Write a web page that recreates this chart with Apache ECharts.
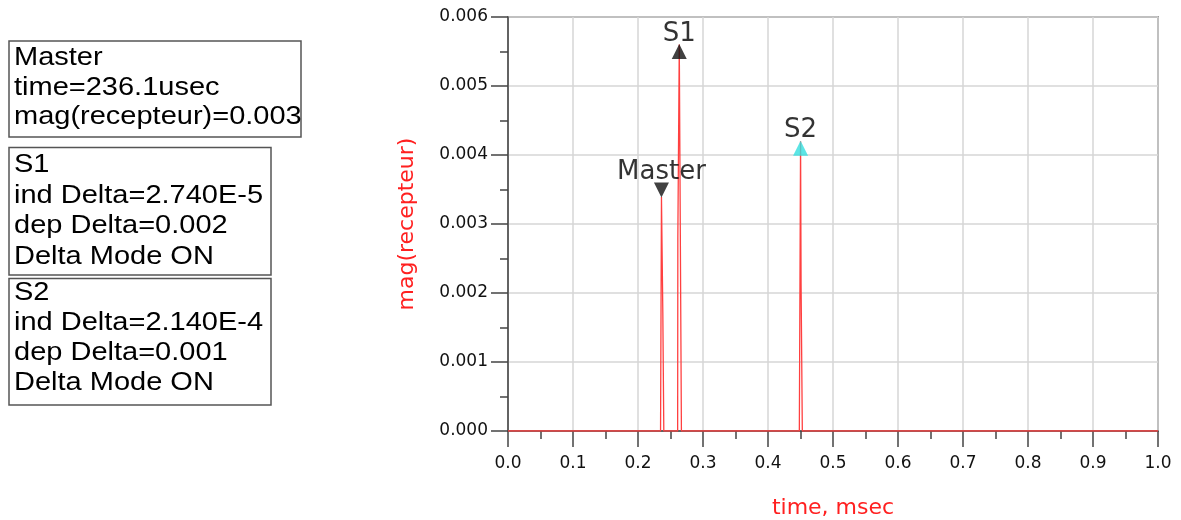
<!DOCTYPE html>
<html>
<head>
<meta charset="utf-8">
<script src="https://cdn.jsdelivr.net/npm/echarts@6/dist/echarts.min.js"></script>
<style>
html, body { margin: 0; padding: 0; background: #fff; }
#main { width: 1181px; height: 520px; }
</style>
</head>
<body>
<div id="main"></div>
<script>
// trace mag(recepteur) vs time (msec)
var timeMs = [0.0, 0.2347, 0.2361, 0.2382, 0.2397, 0.2610, 0.2613, 0.2635, 0.2668, 0.4482, 0.4501, 0.4509, 0.4528, 1.0];
var magRecepteur = [0, 0, 0.00339, 0.00171, 0, 0, 0.0028, 0.0056, 0, 0, 0.0042, 0.00212, 0, 0];

// markers
var markerNames = ['Master', 'S1', 'S2'];
var markerTimes = [0.2361, 0.2635, 0.4501];
var markerMags = [0.00339, 0.0056, 0.0042];
var markerColors = ['#111111', '#111111', '#33dede'];

// marker readout boxes
var boxLines = [
	['Master', 'time=236.1usec', 'mag(recepteur)=0.003'],
	['S1', 'ind Delta=2.740E-5', 'dep Delta=0.002', 'Delta Mode ON'],
	['S2', 'ind Delta=2.140E-4', 'dep Delta=0.001', 'Delta Mode ON']
];

var FONT = '"DejaVu Sans", "Liberation Sans", sans-serif';

var traceData = [];
for (var i = 0; i < timeMs.length; i++) {
	traceData.push([timeMs[i], magRecepteur[i]]);
}

var markerData = [];
for (var j = 0; j < markerNames.length; j++) {
	var down = markerNames[j] == 'Master';
	markerData.push({
		name: markerNames[j],
		value: [markerTimes[j], markerMags[j]],
		symbol: down ? 'path://M0,0 L10,0 L5,10 Z' : 'path://M5,0 L10,10 L0,10 Z',
		symbolOffset: [0, down ? -7 : 7],
		itemStyle: { color: markerColors[j] }
	});
}

// boxes on the left
var boxes = [
	{ x: 9, y: 41, w: 292, h: 96, ty: 43.5, lh: 29.5 },
	{ x: 9, y: 147.5, w: 262, h: 127.5, ty: 150, lh: 30.5 },
	{ x: 9, y: 278.5, w: 262, h: 126.5, ty: 278.5, lh: 30 }
];
var graphics = [];
for (var k = 0; k < boxes.length; k++) {
	var b = boxes[k];
	graphics.push({
		type: 'rect',
		shape: { x: b.x, y: b.y, width: b.w, height: b.h },
		style: { fill: '#fff', stroke: '#555', lineWidth: 1.5 }
	});
	graphics.push({
		type: 'text',
		x: 14, y: b.ty,
		scaleX: 1.16,
		style: {
			text: boxLines[k].join('\n'),
			font: '25px "Liberation Sans", Arial, sans-serif',
			lineHeight: b.lh,
			fill: '#000'
		}
	});
}

var option = {
	animation: false,
	backgroundColor: '#fff',
	graphic: graphics,
	grid: {
		left: 508, right: 23, top: 17, bottom: 89,
		outerBoundsMode: 'none',
		containLabel: false,
		show: true,
		borderColor: '#555',
		borderWidth: 1.5
	},
	xAxis: {
		type: 'value',
		min: 0, max: 1, interval: 0.1,
		name: 'time, msec',
		nameLocation: 'middle',
		nameGap: 66,
		nameTextStyle: { color: '#ff2020', fontSize: 22, fontFamily: FONT },
		axisLine: { lineStyle: { color: '#444', width: 1.5 } },
		axisTick: { length: 16, lineStyle: { color: '#444', width: 1.5 } },
		minorTick: { show: true, splitNumber: 2, length: 8, lineStyle: { color: '#444', width: 1.5 } },
		axisLabel: {
			margin: 24, color: '#111', fontSize: 17, fontFamily: FONT,
			formatter: function (v) { return v.toFixed(1); }
		},
		splitLine: { lineStyle: { color: '#d6d6d6', width: 1.5 } }
	},
	yAxis: {
		type: 'value',
		min: 0, max: 0.006, interval: 0.001,
		name: 'mag(recepteur)',
		nameLocation: 'middle',
		nameGap: 90,
		nameTextStyle: { color: '#ff2020', fontSize: 22, fontFamily: FONT },
		axisLine: { show: true, lineStyle: { color: '#444', width: 1.5 } },
		axisTick: { show: true, length: 17, lineStyle: { color: '#444', width: 1.5 } },
		minorTick: { show: true, splitNumber: 2, length: 8, lineStyle: { color: '#444', width: 1.5 } },
		axisLabel: {
			margin: 20, color: '#111', fontSize: 17, fontFamily: FONT,
			formatter: function (v) { return v.toFixed(3); }
		},
		splitLine: { lineStyle: { color: '#d6d6d6', width: 1.5 } }
	},
	series: [
		{
			name: 'mag(recepteur)',
			type: 'line',
			data: traceData,
			showSymbol: false,
			lineStyle: { color: '#ff4040', width: 1.3 },
			z: 3
		},
		{
			name: 'markers',
			type: 'scatter',
			data: markerData,
			symbolSize: [15, 15],
			z: 4,
			label: {
				show: true,
				position: 'top',
				distance: -3,
				formatter: '{b}',
				color: '#000',
				fontSize: 26,
				fontFamily: FONT
			}
		}
	]
};

var myChart = echarts.init(document.getElementById('main'));
myChart.setOption(option);
</script>
</body>
</html>
